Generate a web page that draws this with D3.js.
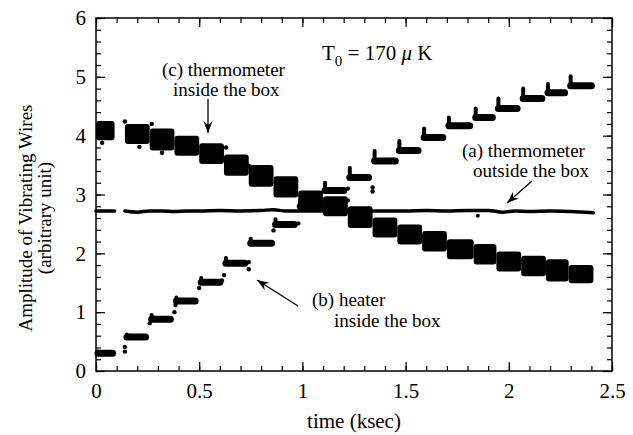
<!DOCTYPE html>
<html>
<head>
<meta charset="utf-8">
<script src="https://cdn.jsdelivr.net/npm/d3@7"></script>
<style>
  body { margin: 0; background: #fff; }
  .serif { font-family: "Liberation Serif", "DejaVu Serif", "Times New Roman", serif; fill: #000; }
</style>
</head>
<body>
<div id="chart"></div>
<script>
// time windows of each heater step (ksec)
const stepStart = [0.00, 0.14, 0.26, 0.38, 0.50, 0.62, 0.74, 0.86, 0.98, 1.10, 1.22, 1.34, 1.46, 1.58, 1.70, 1.83, 1.94, 2.06, 2.18, 2.29];
const stepEnd   = [0.09, 0.25, 0.37, 0.49, 0.61, 0.73, 0.86, 0.97, 1.09, 1.21, 1.33, 1.46, 1.57, 1.69, 1.82, 1.93, 2.05, 2.17, 2.28, 2.41];

// (b) heater inside the box
const heaterLevel = [0.30, 0.58, 0.88, 1.19, 1.51, 1.83, 2.17, 2.49, 2.80, 3.07, 3.29, 3.57, 3.75, 3.97, 4.17, 4.31, 4.46, 4.63, 4.73, 4.85];
const heaterPeak  = [0.33, 0.62, 0.95, 1.25, 1.58, 1.92, 2.25, 2.58, 2.90, 3.20, 3.45, 3.74, 3.91, 4.12, 4.31, 4.46, 4.63, 4.80, 4.88, 5.01];
const heaterDotT  = [0.14, 0.14, 0.26, 0.38, 0.385, 0.50, 0.61, 0.62, 0.74, 0.74, 0.86, 0.98, 1.22, 1.22, 1.34, 1.34];
const heaterDotV  = [0.41, 0.33, 0.81, 1.00, 1.12, 1.41, 1.54, 1.63, 1.73, 1.85, 2.39, 2.51, 3.10, 2.90, 3.12, 3.05];

// (c) thermometer inside the box: top / bottom of the noisy band
const insideHi = [4.25, 4.20, 4.12, 4.00, 3.87, 3.68, 3.50, 3.31, 3.07, 2.97, 2.80, 2.61, 2.49, 2.38, 2.24, 2.16, 2.03, 1.96, 1.90, 1.80];
const insideLo = [3.92, 3.86, 3.75, 3.66, 3.52, 3.32, 3.13, 2.95, 2.72, 2.63, 2.43, 2.27, 2.15, 2.03, 1.90, 1.81, 1.69, 1.61, 1.52, 1.49];
const insideDotT = [0.03, 0.14, 0.21, 0.27, 0.32, 0.63, 0.74];
const insideDotV = [3.88, 4.24, 3.81, 4.20, 3.71, 3.80, 3.49];

// (a) thermometer outside the box
const outsideT = [0.00, 0.05, 0.09, 0.115, 0.14, 0.20, 0.26, 0.32, 0.38, 0.44, 0.50, 0.60, 0.70, 0.80, 0.86, 0.92, 1.00, 1.10, 1.20, 1.30, 1.40, 1.50, 1.60, 1.70, 1.80, 1.90, 1.97, 2.03, 2.10, 2.20, 2.30, 2.41];
const outsideV = [2.72, 2.72, 2.72, null, 2.72, 2.70, 2.72, 2.72, 2.71, 2.72, 2.72, 2.73, 2.72, 2.73, 2.74, 2.72, 2.72, 2.72, 2.73, 2.72, 2.72, 2.72, 2.73, 2.72, 2.73, 2.73, 2.70, 2.72, 2.71, 2.72, 2.71, 2.69];
const outsideDotT = [1.85];
const outsideDotV = [2.64];

// axis ticks
const xTicks = [0, 0.5, 1, 1.5, 2, 2.5];
const yTicks = [0, 1, 2, 3, 4, 5, 6];

const margin = {top: 18, right: 21, bottom: 64, left: 96},
    width = 633 - margin.left - margin.right,
    height = 435 - margin.top - margin.bottom;

const x = d3.scaleLinear().domain([0, 2.5]).range([0, width]);
const y = d3.scaleLinear().domain([0, 6]).range([height, 0]);

const root = d3.select("#chart").append("svg")
    .attr("width", 633)
    .attr("height", 435);

const svg = root.append("g")
    .attr("transform", "translate(" + margin.left + "," + margin.top + ")");

// arrow head
svg.append("defs").append("marker")
    .attr("id", "head")
    .attr("viewBox", "-12 -5 13 10")
    .attr("refX", 0).attr("refY", 0)
    .attr("markerUnits", "userSpaceOnUse")
    .attr("markerWidth", 13).attr("markerHeight", 10)
    .attr("orient", "auto")
  .append("path")
    .attr("d", "M-12,-4.5L0,0L-12,4.5L-8,0Z")
    .attr("fill", "#000");

// minor + major ticks on all four sides, pointing inward
const xMinor = d3.range(0, 2.51, 0.1);
const yMinor = d3.range(0, 6.01, 0.2);

function tickAxis(axis, scale, values, size, g) {
  g.call(axis(scale).tickValues(values).tickSize(-size).tickSizeOuter(0).tickFormat(""));
  g.select(".domain").remove();
  g.selectAll(".tick line").attr("stroke", "#000").attr("stroke-width", 1.2);
  return g;
}

tickAxis(d3.axisBottom, x, xMinor, 5, svg.append("g").attr("transform", "translate(0," + height + ")"));
tickAxis(d3.axisTop, x, xMinor, 5, svg.append("g"));
tickAxis(d3.axisLeft, y, yMinor, 5, svg.append("g"));
tickAxis(d3.axisRight, y, yMinor, 5, svg.append("g").attr("transform", "translate(" + width + ",0)"));
tickAxis(d3.axisTop, x, xTicks, 9, svg.append("g"));
tickAxis(d3.axisRight, y, yTicks, 9, svg.append("g").attr("transform", "translate(" + width + ",0)"));

const xAxis = d3.axisBottom(x).tickValues(xTicks).tickSize(-9).tickSizeOuter(0).tickPadding(12)
    .tickFormat(d3.format("~g"));
const gx = svg.append("g").attr("transform", "translate(0," + height + ")").call(xAxis);
const yAxis = d3.axisLeft(y).tickValues(yTicks).tickSize(-9).tickSizeOuter(0).tickPadding(10)
    .tickFormat(d3.format("d"));
const gy = svg.append("g").call(yAxis);

[gx, gy].forEach(g => {
  g.attr("font-family", null).attr("font-size", null);
  g.select(".domain").remove();
  g.selectAll(".tick line").attr("stroke", "#000").attr("stroke-width", 1.2);
  g.selectAll(".tick text").attr("class", "serif").style("font-size", "21px");
});

// frame
svg.append("rect")
    .attr("width", width).attr("height", height)
    .attr("fill", "none").attr("stroke", "#000").attr("stroke-width", 1.5);

// (a) outside line
const outside = outsideT.map((t, i) => ({t: t, v: outsideV[i]}));
svg.append("path")
    .datum(outside)
    .attr("fill", "none")
    .attr("stroke", "#000")
    .attr("stroke-width", 3.5)
    .attr("stroke-linecap", "round")
    .attr("d", d3.line().defined(d => d.v != null).x(d => x(d.t)).y(d => y(d.v)).curve(d3.curveMonotoneX));

svg.selectAll(".odot")
    .data(outsideDotT)
    .enter().append("circle")
    .attr("cx", d => x(d))
    .attr("cy", (d, i) => y(outsideDotV[i]))
    .attr("r", 2);

// (c) inside thermometer band, one block per step
svg.selectAll(".band")
    .data(stepStart)
    .enter().append("rect")
    .attr("x", d => x(d))
    .attr("width", (d, i) => x(i < stepStart.length - 1 && i > 0 ? stepStart[i + 1] : stepEnd[i]) - x(d))
    .attr("y", (d, i) => y(insideHi[i]))
    .attr("height", (d, i) => y(insideLo[i]) - y(insideHi[i]))
    .attr("rx", 3)
    .attr("fill", "#000");

svg.selectAll(".idot")
    .data(insideDotT)
    .enter().append("circle")
    .attr("cx", d => x(d))
    .attr("cy", (d, i) => y(insideDotV[i]))
    .attr("r", 2.2);

// (b) heater steps
svg.selectAll(".step")
    .data(stepStart)
    .enter().append("line")
    .attr("x1", d => x(d) + 2)
    .attr("x2", (d, i) => x(stepEnd[i]) - 2)
    .attr("y1", (d, i) => y(heaterLevel[i]))
    .attr("y2", (d, i) => y(heaterLevel[i]))
    .attr("stroke", "#000")
    .attr("stroke-width", 7)
    .attr("stroke-linecap", "round");

svg.selectAll(".spike")
    .data(stepStart)
    .enter().append("line")
    .attr("x1", d => x(d) + 2)
    .attr("x2", d => x(d) + 2)
    .attr("y1", (d, i) => y(heaterLevel[i]))
    .attr("y2", (d, i) => y(heaterPeak[i]))
    .attr("stroke", "#000")
    .attr("stroke-width", 4)
    .attr("stroke-linecap", "round");

svg.selectAll(".hdot")
    .data(heaterDotT)
    .enter().append("circle")
    .attr("cx", d => x(d))
    .attr("cy", (d, i) => y(heaterDotV[i]))
    .attr("r", 2.2);

// labels (page coordinates)
function label(txt, px, py, size) {
  return root.append("text").attr("x", px).attr("y", py)
      .attr("class", "serif").style("font-size", (size || 19) + "px").text(txt);
}

label("(c) thermometer", 162, 76);
label("inside the box", 173, 96);
label("(a) thermometer", 462, 157);
label("outside the box", 473, 177);
label("(b) heater", 312, 306);
label("inside the box", 334, 327);

const t0 = root.append("text").attr("x", 322).attr("y", 60).attr("class", "serif").style("font-size", "21px");
t0.append("tspan").text("T");
t0.append("tspan").attr("dy", 6).style("font-size", "15px").text("0");
t0.append("tspan").attr("dy", -6).text(" = 170 ");
t0.append("tspan").style("font-style", "italic").text("\u03bc");
t0.append("tspan").text(" K");

function arrow(x1, y1, x2, y2) {
  root.append("line")
      .attr("x1", x1).attr("y1", y1).attr("x2", x2).attr("y2", y2)
      .attr("stroke", "#000").attr("stroke-width", 1.3)
      .attr("marker-end", "url(#head)");
}
arrow(208, 99, 208, 133);
arrow(532, 181, 507, 203);
arrow(298, 306, 257, 280);

// axis titles
label("time (ksec)", margin.left + width / 2, 428, 21).attr("text-anchor", "middle");

root.append("text")
    .attr("transform", "translate(32,218) rotate(-90)")
    .attr("text-anchor", "middle")
    .attr("class", "serif")
    .style("font-size", "19px")
    .text("Amplitude of Vibrating Wires");
root.append("text")
    .attr("transform", "translate(51,218) rotate(-90)")
    .attr("text-anchor", "middle")
    .attr("class", "serif")
    .style("font-size", "19px")
    .text("(arbitrary unit)");
</script>
</body>
</html>
